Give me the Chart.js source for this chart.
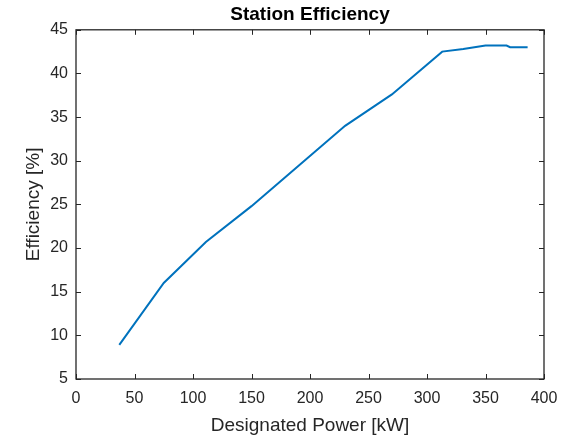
<!DOCTYPE html>
<html>
<head>
<meta charset="utf-8">
<script src="https://cdn.jsdelivr.net/npm/chart.js@4.4.0/dist/chart.umd.min.js"></script>
<style>
  html, body { margin: 0; padding: 0; background: #fff; }
  #wrap { width: 570px; height: 437px; }
</style>
</head>
<body>
<div id="wrap"><canvas id="effChart" width="570" height="437"></canvas></div>
<script>
// values
const powerKw = [37, 75, 111, 150, 190, 230, 270, 313, 331, 350, 368, 371, 386];
const efficiencyPct = [8.9, 16.0, 20.7, 24.8, 29.4, 34.0, 37.6, 42.5, 42.8, 43.2, 43.2, 43.0, 43.0];
const xTicks = [0, 50, 100, 150, 200, 250, 300, 350, 400];
const yTicks = [5, 10, 15, 20, 25, 30, 35, 40, 45];

const axisColor = '#262626';
const fontFamily = '"Liberation Sans", Arial, Helvetica, sans-serif';

// MATLAB style box with inward ticks on all four sides
const boxTicks = {
    id: 'boxTicks',
    afterDraw(chart) {
        const { ctx, chartArea: a, scales } = chart;
        const len = 5;
        ctx.save();
        ctx.strokeStyle = axisColor;
        ctx.lineWidth = 1;
        ctx.beginPath();
        xTicks.forEach(v => {
            const x = Math.round(scales.x.getPixelForValue(v)) + 0.5;
            ctx.moveTo(x, a.bottom); ctx.lineTo(x, a.bottom - len);
            ctx.moveTo(x, a.top); ctx.lineTo(x, a.top + len);
        });
        yTicks.forEach(v => {
            const y = Math.round(scales.y.getPixelForValue(v)) + 0.5;
            ctx.moveTo(a.left, y); ctx.lineTo(a.left + len, y);
            ctx.moveTo(a.right, y); ctx.lineTo(a.right - len, y);
        });
        ctx.stroke();
        ctx.lineWidth = 1.3;
        ctx.strokeRect(a.left, a.top, a.right - a.left, a.bottom - a.top);
        ctx.restore();
    }
};

const ctx = document.getElementById('effChart').getContext('2d');
new Chart(ctx, {
    type: 'line',
    data: {
        datasets: [{
            data: powerKw.map((p, i) => ({ x: p, y: efficiencyPct[i] })),
            borderColor: '#0072BD',
            borderWidth: 2,
            pointRadius: 0,
            tension: 0,
            fill: false
        }]
    },
    options: {
        responsive: false,
        animation: false,
        layout: { padding: { left: 0, right: 26, top: 0, bottom: 0 } },
        plugins: {
            legend: { display: false },
            tooltip: { enabled: false },
            title: {
                display: true,
                text: 'Station Efficiency',
                fullSize: false,
                color: '#000',
                font: { family: fontFamily, size: 19, weight: 'bold' },
                padding: { top: 3, bottom: 4 }
            }
        },
        scales: {
            x: {
                type: 'linear',
                min: 0,
                max: 400,
                afterBuildTicks: s => { s.ticks = xTicks.map(v => ({ value: v })); },
                afterFit: s => { s.height = 58; },
                grid: { display: false, drawTicks: false },
                border: { display: false },
                ticks: {
                    color: axisColor,
                    padding: 10,
                    maxRotation: 0,
                    font: { family: fontFamily, size: 16 }
                },
                title: {
                    display: true,
                    text: 'Designated Power [kW]',
                    color: axisColor,
                    padding: { top: 2, bottom: 0 },
                    font: { family: fontFamily, size: 19 }
                }
            },
            y: {
                type: 'linear',
                min: 5,
                max: 45,
                afterBuildTicks: s => { s.ticks = yTicks.map(v => ({ value: v })); },
                afterFit: s => { s.width = 76; },
                grid: { display: false, drawTicks: false },
                border: { display: false },
                ticks: {
                    color: axisColor,
                    padding: 8,
                    font: { family: fontFamily, size: 16 }
                },
                title: {
                    display: true,
                    text: 'Efficiency [%]',
                    color: axisColor,
                    padding: { top: 22, bottom: 4 },
                    font: { family: fontFamily, size: 19 }
                }
            }
        }
    },
    plugins: [boxTicks]
});
</script>
</body>
</html>
